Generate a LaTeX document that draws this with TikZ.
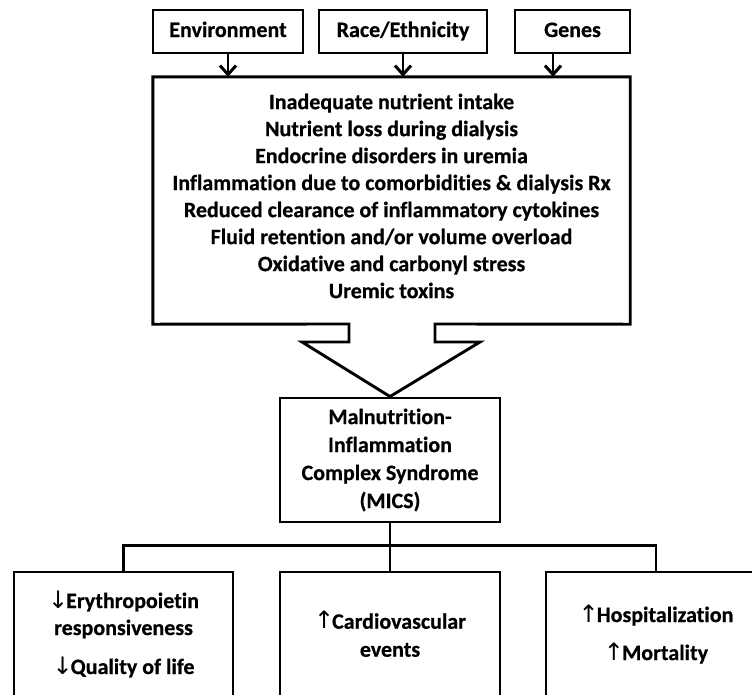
\documentclass[tikz,border=0pt]{standalone}
\usepackage{fontspec}
\setmainfont{Carlito}[Ligatures={NoCommon}, BoldFeatures={FakeBold=0.6}]
\newfontfamily\arrfont{DejaVu Sans}
\usetikzlibrary{arrows.meta}
\newcommand{\dnarr}{{\arrfont\mdseries\fontsize{24}{24}\selectfont ↓}\kern-2pt}
\newcommand{\uparr}{{\arrfont\mdseries\fontsize{24}{24}\selectfont ↑}\kern-2pt}
\tikzset{
  txt/.style={font=\bfseries\fontsize{22}{27}\selectfont, align=center, inner sep=0pt},
  boxstyle/.style={draw, line width=2.9pt, inner sep=0pt, font=\bfseries\fontsize{22}{27}\selectfont, align=center},
  topbox/.style={boxstyle, minimum height=43pt, text height=15pt, text depth=4pt},
  conn/.style={line width=2.6pt},
  arr/.style={line width=2.8pt, -{Straight Barb[length=9pt,width=16pt,line width=3pt]}}
}
\begin{document}
\begin{tikzpicture}[x=1pt,y=-1pt]
\useasboundingbox (0,0) rectangle (752,694);
% top boxes
\node[topbox, minimum width=150pt] (env) at (228,31.5) {Environment};
\node[topbox, minimum width=168pt] (race) at (403,31.5) {Race/Ethnicity};
\node[topbox, minimum width=115pt] (genes) at (572.5,31.5) {Genes};
% big box frame (invisible node) and its text
\node[minimum width=477pt, minimum height=247pt, inner sep=0pt] (big) at (391.5,200.5) {};
\node[txt] (causes) at (391.5,196) {Inadequate nutrient intake\\
Nutrient loss during dialysis\\
Endocrine disorders in uremia\\
Inflammation due to comorbidities \& dialysis Rx\\
Reduced clearance of inflammatory cytokines\\
Fluid retention and/or volume overload\\
Oxidative and carbonyl stress\\
Uremic toxins};
% MICS box
\node[boxstyle, minimum width=220pt, minimum height=124pt, font=\bfseries\fontsize{22}{28}\selectfont] (mics) at (390,460) {Malnutrition-\\Inflammation\\Complex Syndrome\\(MICS)};
% big box with funnel
\draw[line width=2.9pt, line join=miter] (349,324) -- (big.south west) -- (big.north west) -- (big.north east) -- (big.south east)
  -- (435,324) -- (435,342) -- (480,342) -- (mics.north) -- (302,342) -- (349,342) -- cycle;
% arrows from top boxes
\coordinate (gx) at (553,0);
\draw[arr] (env.south) -- (env.south |- big.north);
\draw[arr] (race.south) -- (race.south |- big.north);
\draw[arr] (genes.south -| gx) -- (big.north -| gx);
% bottom boxes
\node[boxstyle, minimum width=219pt, minimum height=124pt] (b1) at (123.5,634) {\dnarr Erythropoietin\\responsiveness\\[12pt]\dnarr Quality of life};
\node[boxstyle, minimum width=220pt, minimum height=124pt, font=\bfseries\fontsize{22}{28}\selectfont] (b2) at (390,634) {\uparr Cardiovascular\\events};
\node[boxstyle, minimum width=220pt, minimum height=124pt] (b3) at (656,634) {\uparr Hospitalization\\[11pt]\uparr Mortality};
% connectors
\draw[conn] (mics.south) -- (b2.north);
\draw[conn] (b1.north) -- ++(0,-25) -| (b3.north);
\end{tikzpicture}
\end{document}
